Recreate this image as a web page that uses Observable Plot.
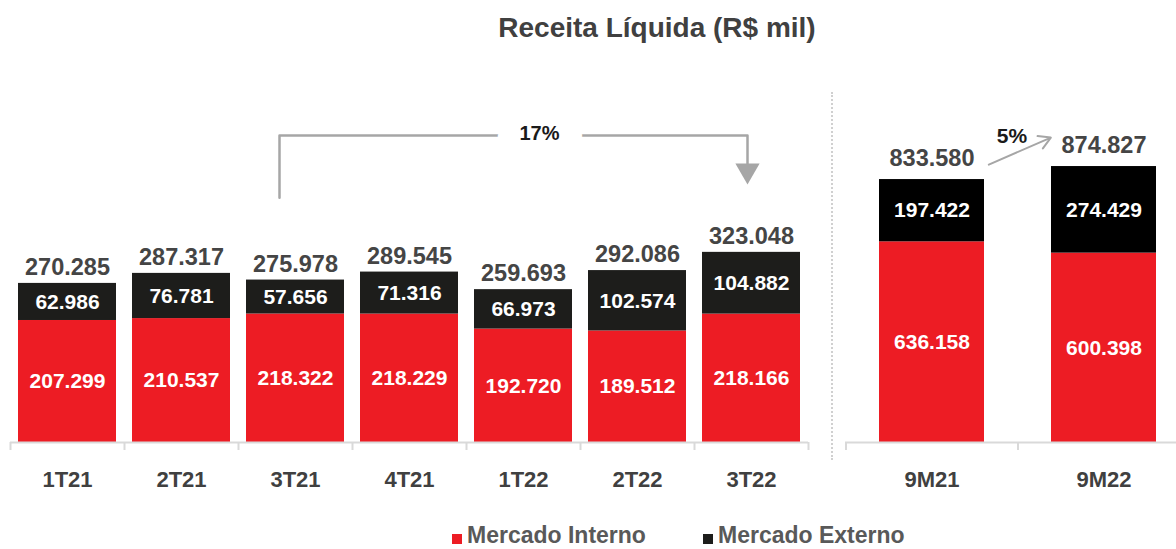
<!DOCTYPE html>
<html><head><meta charset="utf-8">
<script src="https://cdn.jsdelivr.net/npm/d3@7"></script>
<script src="https://cdn.jsdelivr.net/npm/@observablehq/plot@0.6"></script>
<style>
body{margin:0;background:#fff;font-family:"Liberation Sans",Arial,sans-serif;}
#wrap{position:relative;width:1176px;height:549px;overflow:hidden;}
#title{position:absolute;left:657px;top:12px;transform:translateX(-50%);white-space:nowrap;font-size:28px;font-weight:bold;color:#404040;line-height:32px;}
#left{position:absolute;left:0;top:0;}
#right{position:absolute;left:832px;top:0;}
#divider{position:absolute;left:831px;top:92px;height:368px;border-left:2px dotted #d0d0d0;}
.leg{position:absolute;top:522px;font-size:23px;font-weight:bold;color:#595959;line-height:26px;white-space:nowrap;}
.sw{position:absolute;top:534px;width:10px;height:10px;}
</style></head>
<body>
<div id="wrap">
  <div id="title">Receita Líquida (R$ mil)</div>
  <div id="left"></div>
  <div id="divider"></div>
  <div id="right"></div>
  <span class="sw" style="left:452px;background:#ED1C24"></span>
  <div class="leg" style="left:467px">Mercado Interno</div>
  <span class="sw" style="left:703px;background:#1d1d1b"></span>
  <div class="leg" style="left:718px">Mercado Externo</div>
</div>
<script>
// ---- data (R$ mil) ----
const quarters = ["1T21","2T21","3T21","4T21","1T22","2T22","3T22"];
const internoQ = [207299, 210537, 218322, 218229, 192720, 189512, 218166];
const externoQ = [62986, 76781, 57656, 71316, 66973, 102574, 104882];
const totalQ   = [270285, 287317, 275978, 289545, 259693, 292086, 323048];

const periods  = ["9M21","9M22"];
const internoP = [636158, 600398];
const externoP = [197422, 274429];
const totalP   = [833580, 874827];

const series = ["Mercado Interno","Mercado Externo"];
const growthQ = "17%";
const growthP = "5%";

// annotation anchors (data units)
const bracketFrom = "3T21", bracketMid = "1T22", bracketTo = "3T22";
const bracketLow = 416000, bracketTop = 521600, bracketEnd = 470000;
const arrowTipY = 462000;
const arrowP = {y1: 802500, y2: 1040000};

const fmt = v => Math.round(v).toString().replace(/\B(?=(\d{3})+(?!\d))/g, ".");

function rows(cats, interno, externo) {
  const r = [];
  cats.forEach((c, i) => r.push({cat: c, series: series[0], value: interno[i], mid: interno[i] / 2}));
  cats.forEach((c, i) => r.push({cat: c, series: series[1], value: externo[i], mid: interno[i] + externo[i] / 2}));
  return r;
}
const rowsQ = rows(quarters, internoQ, externoQ);
const rowsP = rows(periods, internoP, externoP);
const totQ = quarters.map((c, i) => ({cat: c, total: totalQ[i]}));
const totP = periods.map((c, i) => ({cat: c, total: totalP[i]}));

const font = "Liberation Sans, Arial, sans-serif";
const axisGray = "#d9d9d9";
const arrowGray = "#a6a6a6";

// ---- left panel ----
const left = Plot.plot({
  width: 832, height: 500,
  marginLeft: 10, marginRight: 24, marginTop: 60, marginBottom: 58,
  style: {fontFamily: font, background: "transparent"},
  x: {domain: quarters, paddingInner: 0.14, paddingOuter: 0.07},
  y: {domain: [0, 649000], axis: null},
  color: {domain: series, range: ["#ED1C24", "#1d1d1b"]},
  marks: [
    Plot.barY(rowsQ, {x: "cat", y: "value", fill: "series"}),
    Plot.ruleY([0], {stroke: axisGray, strokeWidth: 2}),
    Plot.axisX({tickSize: 8, tickFormat: () => "", dx: -57, stroke: axisGray, strokeWidth: 2}),
    Plot.axisX({ticks: [quarters[quarters.length - 1]], tickSize: 8, tickFormat: () => "", dx: 57, stroke: axisGray, strokeWidth: 2}),
    Plot.text(rowsQ, {x: "cat", y: "mid", text: d => fmt(d.value), fill: "white", fontSize: 21, fontWeight: "bold"}),
    Plot.text(totQ, {x: "cat", y: "total", text: d => fmt(d.total), dy: -16, fill: "#454545", fontSize: 23.5, fontWeight: "bold"}),
    Plot.text(quarters, {x: Plot.identity, y: () => 0, text: Plot.identity, dy: 37, fill: "#404040", fontSize: 22, fontWeight: "bold"}),
    // bracket arrow 17%
    Plot.line([
      {x: bracketFrom, y: bracketLow},
      {x: bracketFrom, y: bracketTop},
      {x: bracketMid, y: bracketTop}
    ], {x: "x", y: "y", stroke: arrowGray, strokeWidth: 2.5, dx: -16}),
    Plot.line([
      {x: bracketMid, y: bracketTop},
      {x: bracketTo, y: bracketTop},
      {x: bracketTo, y: bracketEnd}
    ], {x: "x", y: "y", stroke: arrowGray, strokeWidth: 2.5, dx: -4}),
    Plot.dot([{x: bracketTo, y: arrowTipY}], {x: "x", y: "y", symbol: "triangle", rotate: 180, r: 9, fill: arrowGray, dx: -4}),
    Plot.text([{x: bracketMid, y: bracketTop}], {x: "x", y: "y", text: () => growthQ, dx: 16, dy: -2, fontSize: 20, fontWeight: "bold", fill: "#1a1a1a", stroke: "white", strokeWidth: 46})
  ]
});
document.getElementById("left").appendChild(left);

// ---- right panel ----
const right = Plot.plot({
  width: 344, height: 500,
  marginLeft: 13, marginRight: -13, marginTop: 60, marginBottom: 58,
  style: {fontFamily: font, background: "transparent", overflow: "hidden"},
  x: {domain: periods, paddingInner: 0.39, paddingOuter: 0.195},
  y: {domain: [0, 1211000], axis: null},
  color: {domain: series, range: ["#ED1C24", "#000000"]},
  marks: [
    Plot.barY(rowsP, {x: "cat", y: "value", fill: "series"}),
    Plot.ruleY([0], {stroke: axisGray, strokeWidth: 2}),
    Plot.axisX({tickSize: 8, tickFormat: () => "", dx: -86, stroke: axisGray, strokeWidth: 2}),
    Plot.text(rowsP, {x: "cat", y: "mid", text: d => fmt(d.value), fill: "white", fontSize: 21, fontWeight: "bold"}),
    Plot.text(totP, {x: "cat", y: "total", text: d => fmt(d.total), dy: -21, fill: "#454545", fontSize: 23.5, fontWeight: "bold"}),
    Plot.text(periods, {x: Plot.identity, y: () => 0, text: Plot.identity, dy: 37, fill: "#404040", fontSize: 22, fontWeight: "bold"}),
    Plot.arrow([{x1: periods[0], x2: periods[1], ...arrowP}], {x1: "x1", x2: "x2", y1: "y1", y2: "y2", insetStart: 62, insetEnd: 58, stroke: arrowGray, strokeWidth: 2, headLength: 10}),
    Plot.text([{x: periods[0], y: totalP[0]}], {x: "x", y: "y", text: () => growthP, dx: 80, dy: -43, fontSize: 21, fontWeight: "bold", fill: "#1a1a1a"})
  ]
});
document.getElementById("right").appendChild(right);
</script>
</body></html>
